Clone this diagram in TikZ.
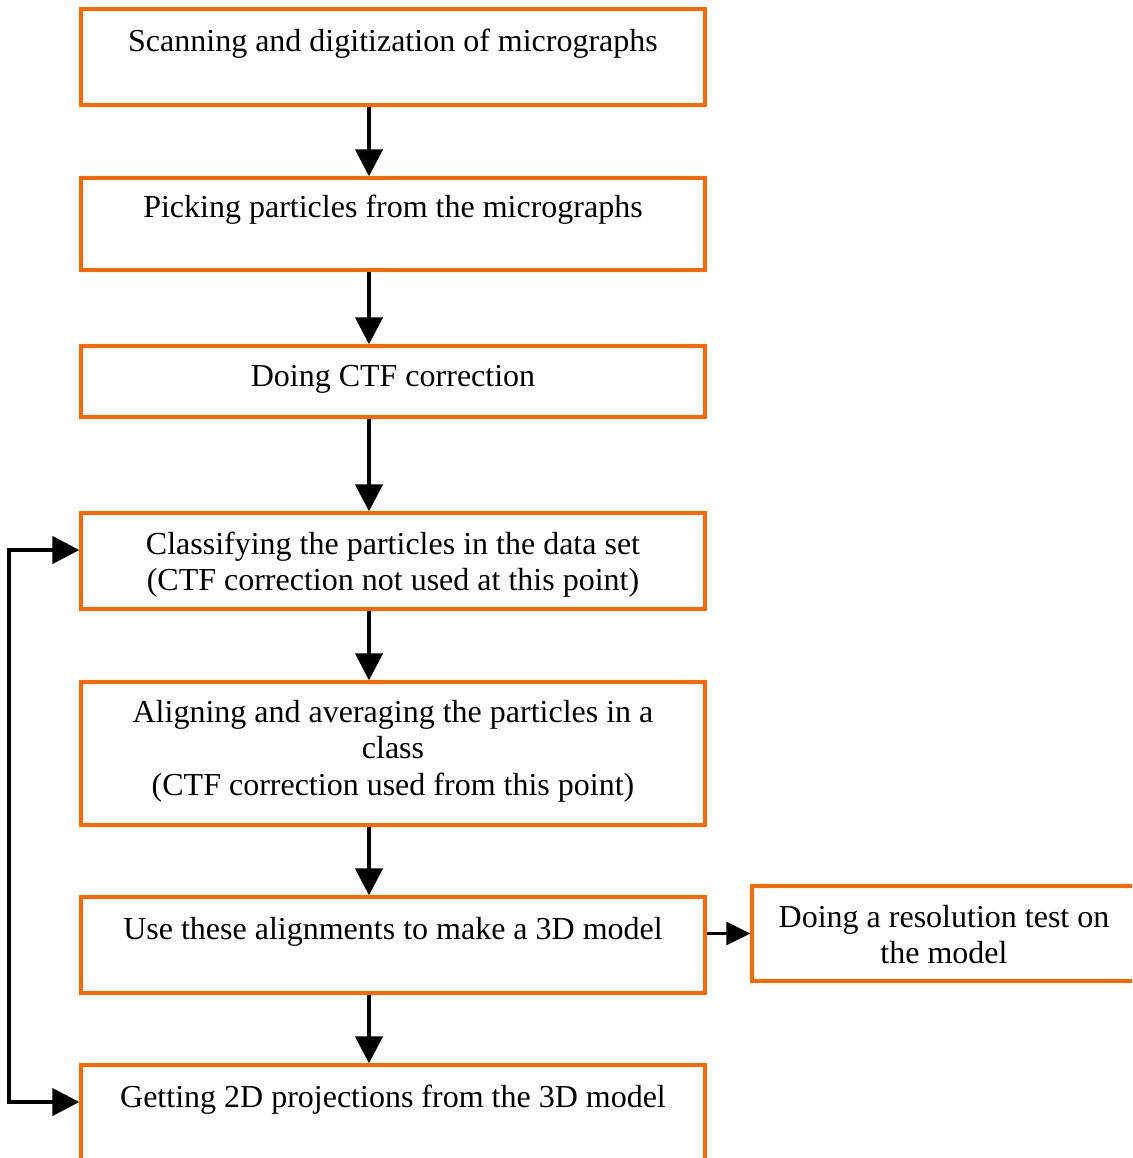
\documentclass[tikz,border=0pt]{standalone}
\usepackage{fontspec}
\setmainfont{Liberation Serif}
\usetikzlibrary{arrows.meta}
\definecolor{boxorange}{RGB}{255,102,0}
\begin{document}
\begin{tikzpicture}[x=1pt,y=-1pt,
  box/.style={draw=boxorange, line width=3.3pt, rectangle, inner sep=0pt, fill=white},
  txt/.style={font=\fontsize{32}{36.8}\selectfont, align=center, anchor=base, inner sep=0pt},
  arr/.style={line width=4.3pt, -{Triangle[length=27pt,width=27pt]}},
  loop/.style={line width=4.3pt, {Triangle[length=27pt,width=27pt]}-{Triangle[length=27pt,width=27pt]}},
  sarr/.style={line width=3pt, -{Triangle[length=24pt,width=23pt]}}]
\useasboundingbox (0,0) rectangle (1132,1158);
\clip (0,0) rectangle (1132,1158);
\fill[white] (0,0) rectangle (1132,1158);
\coordinate (ax) at (369,0);
\node[box, minimum width=624pt, minimum height=96pt] (b1) at (393,57) {};
\node[box, minimum width=624pt, minimum height=92pt] (b2) at (393,224) {};
\node[box, minimum width=624pt, minimum height=71pt] (b3) at (393,381.5) {};
\node[box, minimum width=624pt, minimum height=96pt] (b4) at (393,561) {};
\node[box, minimum width=624pt, minimum height=143pt] (b5) at (393,753.5) {};
\node[box, minimum width=624pt, minimum height=96pt] (b6) at (393,945) {};
\node[box, minimum width=624pt, minimum height=96pt] (b7) at (393,1113) {};
\node[box, minimum width=384pt, minimum height=95pt] (r) at (944,933.5) {};
\node[txt] (t1) at (393,52) {Scanning and digitization of micrographs};
\node[txt] (t2) at (393,218) {Picking particles from the micrographs};
\node[txt] (t3) at (393,386) {Doing CTF correction};
\node[txt] (t4) at (393,590.8) {Classifying the particles in the data set\\(CTF correction not used at this point)};
\node[txt] (t5) at (393,795.6) {Aligning and averaging the particles in a\\class\\(CTF correction used from this point)};
\node[txt] (t6) at (393,939) {Use these alignments to make a 3D model};
\node[txt] (t7) at (393,1107) {Getting 2D projections from the 3D model};
\node[txt] (tr) at (944,963.8) {Doing a resolution test on\\the model};
\draw[arr] (b1.south -| ax) -- (b2.north -| ax);
\draw[arr] (b2.south -| ax) -- (b3.north -| ax);
\draw[arr] (b3.south -| ax) -- (b4.north -| ax);
\draw[arr] (b4.south -| ax) -- (b5.north -| ax);
\draw[arr] (b5.south -| ax) -- (b6.north -| ax);
\draw[arr] (b6.south -| ax) -- (b7.north -| ax);
\coordinate (l1) at (9,550);
\coordinate (l2) at (9,1102);
\draw[loop] (b4.west |- l1) -- (l1) -- (l2) -- (b7.west |- l2);
\draw[sarr] (b6.east |- r.west) -- (r.west);
\end{tikzpicture}
\end{document}
